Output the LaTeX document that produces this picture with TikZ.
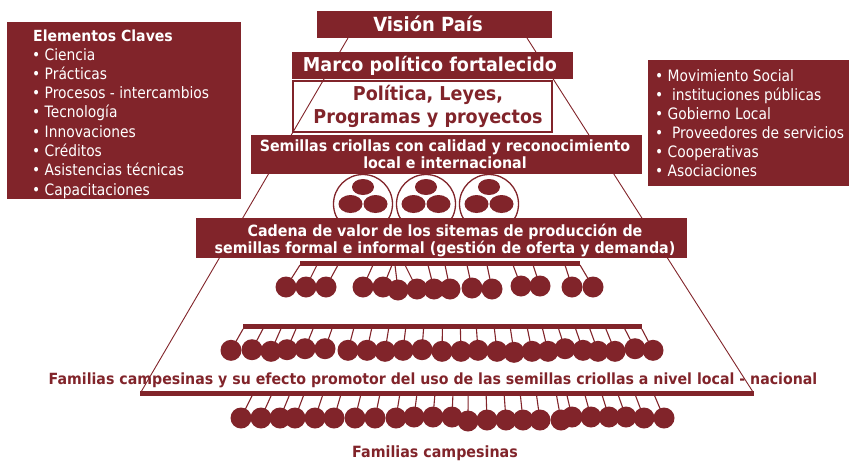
\documentclass[tikz,border=0pt]{standalone}
\usepackage{fontspec}
\usetikzlibrary{shapes.geometric}
\setmainfont{DejaVu Sans}
\newfontfamily\condfont{DejaVu Sans}[FakeStretch=0.88]
\newfontfamily\bcond{DejaVu Sans}[FakeStretch=0.92]
\definecolor{dred}{RGB}{129,36,42}
\begin{document}
\begin{tikzpicture}[x=1pt,y=-1pt,
  boxr/.style={fill=dred,draw=none,inner sep=0,minimum width=#1},
  wtxt/.style={text=white,inner sep=0,anchor=base},
  rtxt/.style={text=dred,inner sep=0,anchor=base},
  ltxt/.style={text=white,inner sep=0,anchor=base west,font=\condfont\fontsize{15.7}{19}\selectfont},
  conn/.style={draw=dred,line width=1.1pt},
  pyr/.style={draw=dred,line width=0.9pt},
  dotn/.style={circle,fill=dred,draw=none,inner sep=0,minimum size=21pt},
  seed/.style={ellipse,fill=dred,draw=none,inner sep=0},
  ring/.style={circle,draw=dred,fill=white,line width=1.3pt,inner sep=0,minimum size=59pt},
  barr/.style={fill=dred,draw=none}]
\useasboundingbox (0,0) rectangle (849,461);

% left box
\node[boxr=234pt,minimum height=177pt] (elem) at (124,110.5) {};
\node[text=white,inner sep=0,anchor=base west,font=\bcond\bfseries\fontsize{15.3}{17}\selectfont] (elemt) at (33,41) {Elementos Claves};
\foreach \t [count=\i] in {Ciencia,Prácticas,Procesos - intercambios,Tecnología,Innovaciones,Créditos,Asistencias técnicas,Capacitaciones}{
  \node[ltxt] (el\i) at (32,{60+19.3*(\i-1)}) {•~\t};
}

% right box
\node[boxr=201pt,minimum height=126pt] (acto) at (748.5,123) {};
\foreach \t [count=\i] in {Movimiento Social,~instituciones públicas,Gobierno Local,~Proveedores de servicios,Cooperativas,Asociaciones}{
  \node[ltxt] (ac\i) at (655,{81.7+19*(\i-1)}) {•~\t};
}

% Politica box (outline only)
\node[draw=dred,line width=2pt,inner sep=0,minimum width=259pt,minimum height=51pt] (poli) at (422.5,106.5) {};
\node[rtxt,font=\bcond\bfseries\fontsize{19.1}{21}\selectfont] (polit1) at (428,100) {Política, Leyes,};
\node[rtxt,font=\bcond\bfseries\fontsize{19.1}{21}\selectfont] (polit2) at (428,123.3) {Programas y proyectos};

% pyramid sides
\coordinate (apexL) at (348,38);
\coordinate (baseL) at (141,392);
\coordinate (apexR) at (527,38);
\coordinate (baseR) at (753,392);
\draw[pyr] (apexL) -- (baseL);
\draw[pyr] (apexR) -- (baseR);

% top boxes
\node[boxr=235pt,minimum height=27pt] (vision) at (434.5,24.5) {};
\node[wtxt,font=\bcond\bfseries\fontsize{19.5}{21}\selectfont] (visiont) at (428,31.7) {Visión País};
\node[boxr=281pt,minimum height=27pt] (marco) at (432.5,65.5) {};
\node[wtxt,font=\bcond\bfseries\fontsize{19.1}{21}\selectfont] (marcot) at (430,71) {Marco político fortalecido};

% seed rings
\foreach \cx [count=\i] in {363,426,489}{
  \node[ring] (ring\i) at (\cx,204) {};
  \node[seed,minimum width=22pt,minimum height=16pt] (s\i a) at (\cx,187) {};
  \node[seed,minimum width=24pt,minimum height=18pt] (s\i b) at (\cx-12.5,204) {};
  \node[seed,minimum width=24pt,minimum height=18pt] (s\i c) at (\cx+12.5,204) {};
}

\node[boxr=391pt,minimum height=39pt] (semi) at (446.5,154.5) {};
\node[wtxt,font=\bcond\bfseries\fontsize{15.5}{17}\selectfont] (semit1) at (445,151.7) {Semillas criollas con calidad y reconocimiento};
\node[wtxt,font=\bcond\bfseries\fontsize{15.5}{17}\selectfont] (semit2) at (445,168.3) {local e internacional};

\node[boxr=491pt,minimum height=40pt] (cade) at (441.5,238) {};
\node[wtxt,font=\bcond\bfseries\fontsize{15.5}{17}\selectfont] (cadet1) at (445,236.2) {Cadena de valor de los sitemas de producción de};
\node[wtxt,font=\bcond\bfseries\fontsize{15.5}{17}\selectfont] (cadet2) at (445,253) {semillas formal e informal (gestión de oferta y demanda)};

% row 1
\fill[barr] (300,261) rectangle (580,265.5);
\foreach \x/\y/\t [count=\i] in {286/287/300,306/287/317,326/287/338,363/287/373,383/287/392,398/290/395,417/289/405,434/289/428,450/289/445,472/288/467,492/289/487,521/286/513,540/286/533,572/287/565,593/287/580}{
  \coordinate (r1t\i) at (\t,265);
  \draw[conn] (r1t\i) -- (\x,\y) node[dotn] (r1d\i) {};
}

% row 2
\fill[barr] (243,324) rectangle (642,329);
\foreach \x/\y [count=\i] in {231/350.3,252/349.7,271/351.3,287/349.7,305/348.7,325/348.7,348/350.3,367/350.3,385/351.3,403/350.3,422/349.7,442/351.3,461/351.3,478/350.3,497/351.3,514/352.3,532/351.3,548/351.3,565/348.7,583/350.3,598/351.3,615/351.3,635/348.7,653/350.3}{
  \pgfmathsetmacro\tx{450+0.945*(\x-450)}
  \coordinate (r2t\i) at (\tx,329);
  \draw[conn] (r2t\i) -- (\x,\y) node[dotn] (r2d\i) {};
}

% familias text and row 3
\node[rtxt,font=\bcond\bfseries\fontsize{15.4}{17}\selectfont] (famt) at (433,384) {Familias campesinas y su efecto promotor del uso de las semillas criollas a nivel local - nacional};
\fill[barr] (140,391) rectangle (754,395.5);
\foreach \x/\y [count=\i] in {241/418,261/418,280/418,295/418,315/418,334/418,355/418,375/418,396/418,414/417,433/417,452/417,468/421,487/420,506/420,523/420,540/420,561/420,572/417,591/417,609/417,626/417,644/418,664/418}{
  \pgfmathsetmacro\tx{470+0.95*(\x-470)}
  \coordinate (r3t\i) at (\tx,395);
  \draw[conn] (r3t\i) -- (\x,\y) node[dotn] (r3d\i) {};
}

\node[rtxt,font=\bcond\bfseries\fontsize{15.5}{17}\selectfont] (famc) at (435,457) {Familias campesinas};
\end{tikzpicture}
\end{document}
